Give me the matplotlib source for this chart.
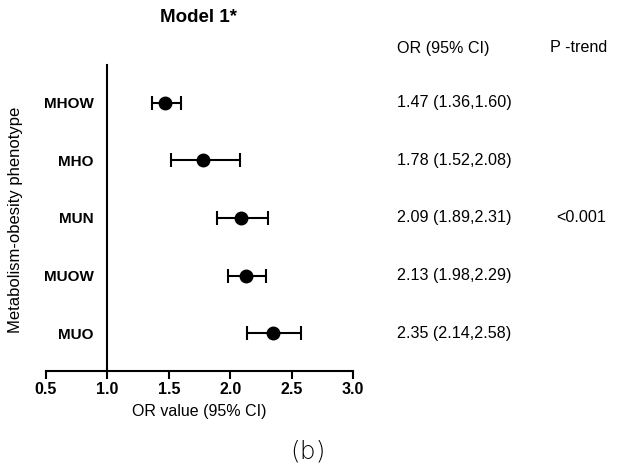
import matplotlib
matplotlib.use('Agg')
import matplotlib.pyplot as plt
import matplotlib.transforms as mtransforms

plt.rcParams['font.family'] = ['Liberation Sans', 'DejaVu Sans']

# Datos del modelo
fenotipos = ['MHOW', 'MHO', 'MUN', 'MUOW', 'MUO']
or_valor = [1.47, 1.78, 2.09, 2.13, 2.35]
ic_bajo = [1.36, 1.52, 1.89, 1.98, 2.14]
ic_alto = [1.60, 2.08, 2.31, 2.29, 2.58]
p_trend = ['', '', '<0.001', '', '']
xticks = [0.5, 1.0, 1.5, 2.0, 2.5, 3.0]

fig = plt.figure(figsize=(6.19, 4.72), dpi=100)
ax = fig.add_axes([46 / 619, 1 - 371 / 472, 307 / 619, 306 / 472])

ypos = list(range(1, len(fenotipos) + 1))
err = [[o - l for o, l in zip(or_valor, ic_bajo)],
       [h - o for o, h in zip(or_valor, ic_alto)]]
ax.errorbar(or_valor, ypos, xerr=err, fmt='o', color='black', ms=9,
            elinewidth=1.5, capsize=5, capthick=1.5)

# la posicion del eje va antes de las etiquetas (si no, se reinician)
ax.spines['top'].set_visible(False)
ax.spines['right'].set_visible(False)
ax.spines['left'].set_position(('data', 1.0))
ax.spines['left'].set_linewidth(1.5)
ax.spines['bottom'].set_linewidth(1.5)

ax.set_xlim(0.5, 3.0)
ax.set_ylim(5.65, 0.35)
ax.set_xticks(xticks)
ax.set_xticklabels([f'{t:.1f}' for t in xticks], fontweight='bold', fontsize=11.5)
ax.set_yticks(ypos)
ax.set_yticklabels(fenotipos, fontweight='bold', fontsize=11)
ax.tick_params(axis='x', length=6, width=1.5, pad=2)
ax.tick_params(axis='y', length=0, pad=10)

ax.set_xlabel('OR value (95% CI)', fontsize=11.5, labelpad=5)
fig.text(16 / 619, 1 - 220 / 472, 'Metabolism-obesity phenotype', rotation=90,
         ha='center', va='center', fontsize=12)

fig.text(199 / 619, 1 - 17 / 472, 'Model 1*', ha='center', va='center',
         fontsize=13.5, fontweight='bold')

# Columna de texto a la derecha
tr = mtransforms.blended_transform_factory(fig.transFigure, ax.transData)
fig.text(397 / 619, 1 - 48 / 472, 'OR (95% CI)', ha='left', va='center', fontsize=11.6)
fig.text(579 / 619, 1 - 48 / 472, 'P -trend', ha='center', va='center', fontsize=11.6)
for y, o, l, h, p in zip(ypos, or_valor, ic_bajo, ic_alto, p_trend):
    ax.text(397 / 619, y, f'{o:.2f} ({l:.2f},{h:.2f})', transform=tr,
            ha='left', va='center', fontsize=11.6)
    if p:
        ax.text(581 / 619, y, p, transform=tr, ha='center', va='center', fontsize=11.6)

fig.text(308 / 619, 1 - 452 / 472, '(b)', ha='center', va='center',
         fontsize=18, family='DejaVu Sans', fontweight='light')

fig.savefig('out.png', dpi=100, facecolor='white')
